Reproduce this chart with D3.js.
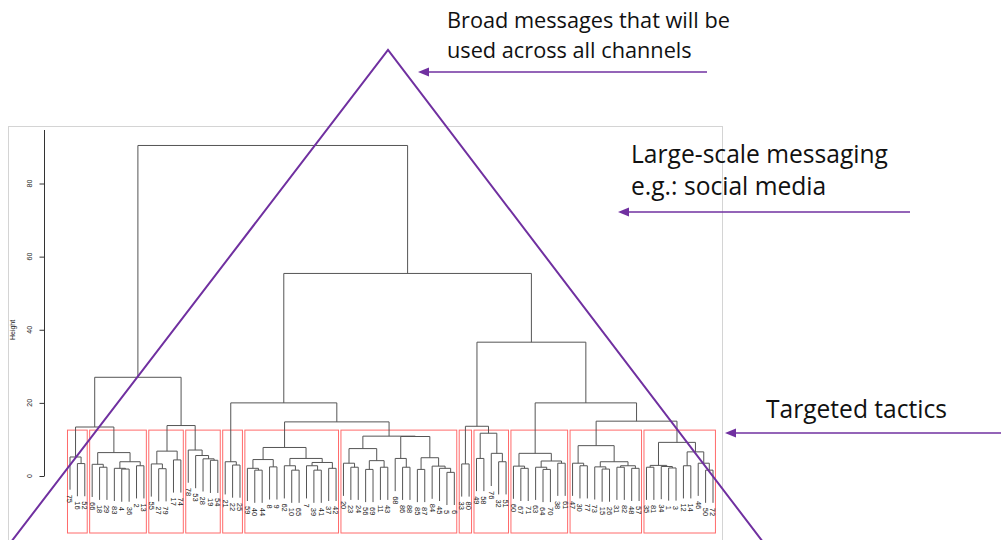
<!DOCTYPE html>
<html>
<head>
<meta charset="utf-8">
<script src="https://cdn.jsdelivr.net/npm/d3@7"></script>
<style>
  body { margin: 0; background: #fff; }
</style>
</head>
<body>
<div id="container"></div>
<script>
const c1 = [5.2, 75, [3.4, 16, 52]];
const c2 = [6.4, [3.2, 66, [2.4, 18, 29]], [3.9, [2.1, 83, [1.9, 4, 36]], [2.8, 2, 13]]];
const c3 = [6.8, [3.3, 55, [2.0, 27, 79]], [4.4, 17, 74]];
const c4 = [7.1, 78, [5.6, 53, [4.7, 28, [4.3, 19, 54]]]];
const c5 = [3.9, 21, [3.0, 22, 25]];
const c6 = [7.8, [4.5, [2.1, 59, [1.6, 40, 44]], [2.5, 8, 9]],
                 [4.8, [2.8, 62, [1.6, 10, 65]], [3.7, [2.8, 7, [1.6, 39, 41]], [2.1, 37, 42]]]];
const c7 = [10.9, [7.5, [3.5, 20, [2.4, 23, 24]], [4.2, [1.8, 56, 69], [2.4, 11, 43]]],
                  [10.8, [4.8, 68, [2.4, 86, 88]], [5.0, [1.8, 85, 87], [2.7, 84, [2.1, 45, [1.0, 5, 6]]]]]];
const c8 = [3.3, 33, 80];
const c9 = [11.7, [4.8, 49, 58], [6.2, 76, [3.9, 32, 51]]];
const c10 = [6.2, [2.7, 60, [2.1, 67, 71]], [4.1, [2.4, 63, [1.8, 64, 70]], [3.5, 38, 61]]];
const c11 = [8.3, [3.5, 47, [2.8, 30, 77]], [3.9, [2.5, 73, [1.9, 15, 26]], [2.8, [2.4, 31, 82], [2.1, 48, 57]]]];
const c12 = [9.2, [2.9, [2.4, 35, 81], [2.6, 34, [2.2, 1, 3]]], [6.6, [2.8, 12, 14], [3.5, 46, [1.6, 50, 72]]]];

const upperTree = [90.4,
  [27.0, [13.4, "c1", "c2"], [13.8, "c3", "c4"]],
  [55.4,
    [20.0, "c5", [14.8, "c6", "c7"]],
    [36.6, [13.6, "c8", "c9"], [20.0, "c10", [15.0, "c11", "c12"]]]]];

const clusterNames = ["c1","c2","c3","c4","c5","c6","c7","c8","c9","c10","c11","c12"];
const clusters = {c1, c2, c3, c4, c5, c6, c7, c8, c9, c10, c11, c12};
const yTicks = [0, 20, 40, 60, 80];
const k = 12;

let svgWidth = 1001, svgHeight = 540;

let viz = d3.select("#container")
  .append("svg")
    .attr("width", svgWidth)
    .attr("height", svgHeight)
    .style("display", "block")
    .style("background-color", "#fff");

function resolve(n) {
  if (typeof n === "string") return clusters[n];
  if (Array.isArray(n)) return [n[0], resolve(n[1]), resolve(n[2])];
  return n;
}
function leaves(n) {
  return typeof n === "number" ? [n] : leaves(n[1]).concat(leaves(n[2]));
}
function heights(n) {
  return typeof n === "number" ? [] : [n[0]].concat(heights(n[1]), heights(n[2]));
}

let tree = resolve(upperTree);
let leafOrder = leaves(tree);
let allHeights = heights(tree).sort((a, b) => b - a);
let hang = 0.1 * (d3.max(allHeights) - d3.min(allHeights));

let x = d3.scalePoint().domain(leafOrder).range([70, 713]);
let y = d3.scaleLinear().domain([0, 80]).range([476, 183.5]);
let step = x.step();

// outer frame of the pasted plot
viz.append("rect")
  .attr("x", 8.5).attr("y", 126.5).attr("width", 714).attr("height", 430)
  .attr("fill", "none").attr("stroke", "#d4d4d4");

// y axis
let axisG = viz.append("g").attr("transform", "translate(44.5,0)");
axisG.append("line").attr("x1", 0).attr("x2", 0).attr("y1", y(0)).attr("y2", 130)
  .attr("stroke", "#333");
axisG.selectAll(".tick").data(yTicks).enter().append("line")
  .attr("x1", -5).attr("x2", 0)
  .attr("y1", d => y(d) + 0.5).attr("y2", d => y(d) + 0.5)
  .attr("stroke", "#333");
axisG.selectAll(".tl").data(yTicks).enter().append("text")
  .attr("transform", d => `translate(-13,${y(d)}) rotate(-90)`)
  .attr("text-anchor", "middle")
  .attr("font-family", "Liberation Sans, Arial, sans-serif")
  .attr("font-size", 7)
  .attr("fill", "#222")
  .text(d => d);
viz.append("text")
  .attr("transform", "translate(15,330) rotate(-90)")
  .attr("text-anchor", "middle")
  .attr("font-family", "Liberation Sans, Arial, sans-serif")
  .attr("font-size", 7)
  .attr("fill", "#222")
  .text("Height");

// red cluster boxes (like rect.hclust)
let boxTop = y(d3.mean(allHeights.slice(k - 2, k)));
let boxG = viz.append("g");
clusterNames.forEach(function(name) {
  let lv = leaves(clusters[name]);
  let x0 = x(lv[0]) - 0.34 * step, x1 = x(lv[lv.length - 1]) + 0.33 * step;
  boxG.append("rect")
    .attr("x", x0).attr("y", boxTop).attr("width", x1 - x0).attr("height", 533 - boxTop)
    .attr("fill", "none").attr("stroke", "#ff6b6b").attr("stroke-width", 1);
});

// dendrogram
let dendro = viz.append("g")
  .attr("stroke", "#555").attr("stroke-width", 1).attr("fill", "none");
let labelG = viz.append("g")
  .attr("font-family", "Liberation Sans, Arial, sans-serif")
  .attr("font-size", 7.5).attr("fill", "#222");

function seg(x1, y1, x2, y2) {
  dendro.append("line").attr("x1", x1).attr("y1", y1).attr("x2", x2).attr("y2", y2);
}

function draw(n) {
  if (typeof n === "number") return {x: x(n), leaf: true, id: n};
  let l = draw(n[1]), r = draw(n[2]);
  let yh = y(n[0]);
  [l, r].forEach(function(c) {
    let yEnd = c.leaf ? y(n[0] - hang) : y(c.h);
    seg(c.x, yh, c.x, yEnd);
    if (c.leaf) {
      labelG.append("text")
        .attr("transform", `translate(${c.x},${yEnd + 5}) rotate(90)`)
        .attr("dy", "0.35em")
        .text(c.id);
    }
  });
  seg(l.x, yh, r.x, yh);
  return {x: (l.x + r.x) / 2, h: n[0]};
}
draw(tree);

// annotations
const purple = "#7030a0";
viz.append("path")
  .attr("d", "M11,542 L388,50 L763,542")
  .attr("fill", "none").attr("stroke", purple).attr("stroke-width", 2);

function arrow(x1, x2, yy) {
  viz.append("line").attr("x1", x1).attr("x2", x2 + 10).attr("y1", yy).attr("y2", yy)
    .attr("stroke", purple).attr("stroke-width", 1.3);
  viz.append("path")
    .attr("d", `M${x2},${yy} L${x2 + 11},${yy - 4.5} L${x2 + 11},${yy + 4.5} Z`)
    .attr("fill", purple);
}
arrow(707, 418, 72);
arrow(910, 618, 212);
arrow(1001, 725, 433);

// text blocks, font size fitted so the first line spans the width seen in the picture
const annFont = "'Open Sans', sans-serif";
function ann(tx, ty, targetWidth, lines, gap) {
  let texts = lines.map(function(s, i) {
    return viz.append("text").attr("x", tx).attr("y", ty + i * gap)
      .attr("font-family", annFont).attr("font-size", 20).attr("fill", "#111")
      .text(s);
  });
  let w = texts[0].node().getComputedTextLength();
  let size = 20 * targetWidth / w;
  texts.forEach(t => t.attr("font-size", size));
}
ann(447, 28, 283, ["Broad messages that will be", "used across all channels"], 30);
ann(631, 163, 257, ["Large-scale messaging", "e.g.: social media"], 32);
ann(766, 418, 181, ["Targeted tactics"], 0);
</script>
</body>
</html>
